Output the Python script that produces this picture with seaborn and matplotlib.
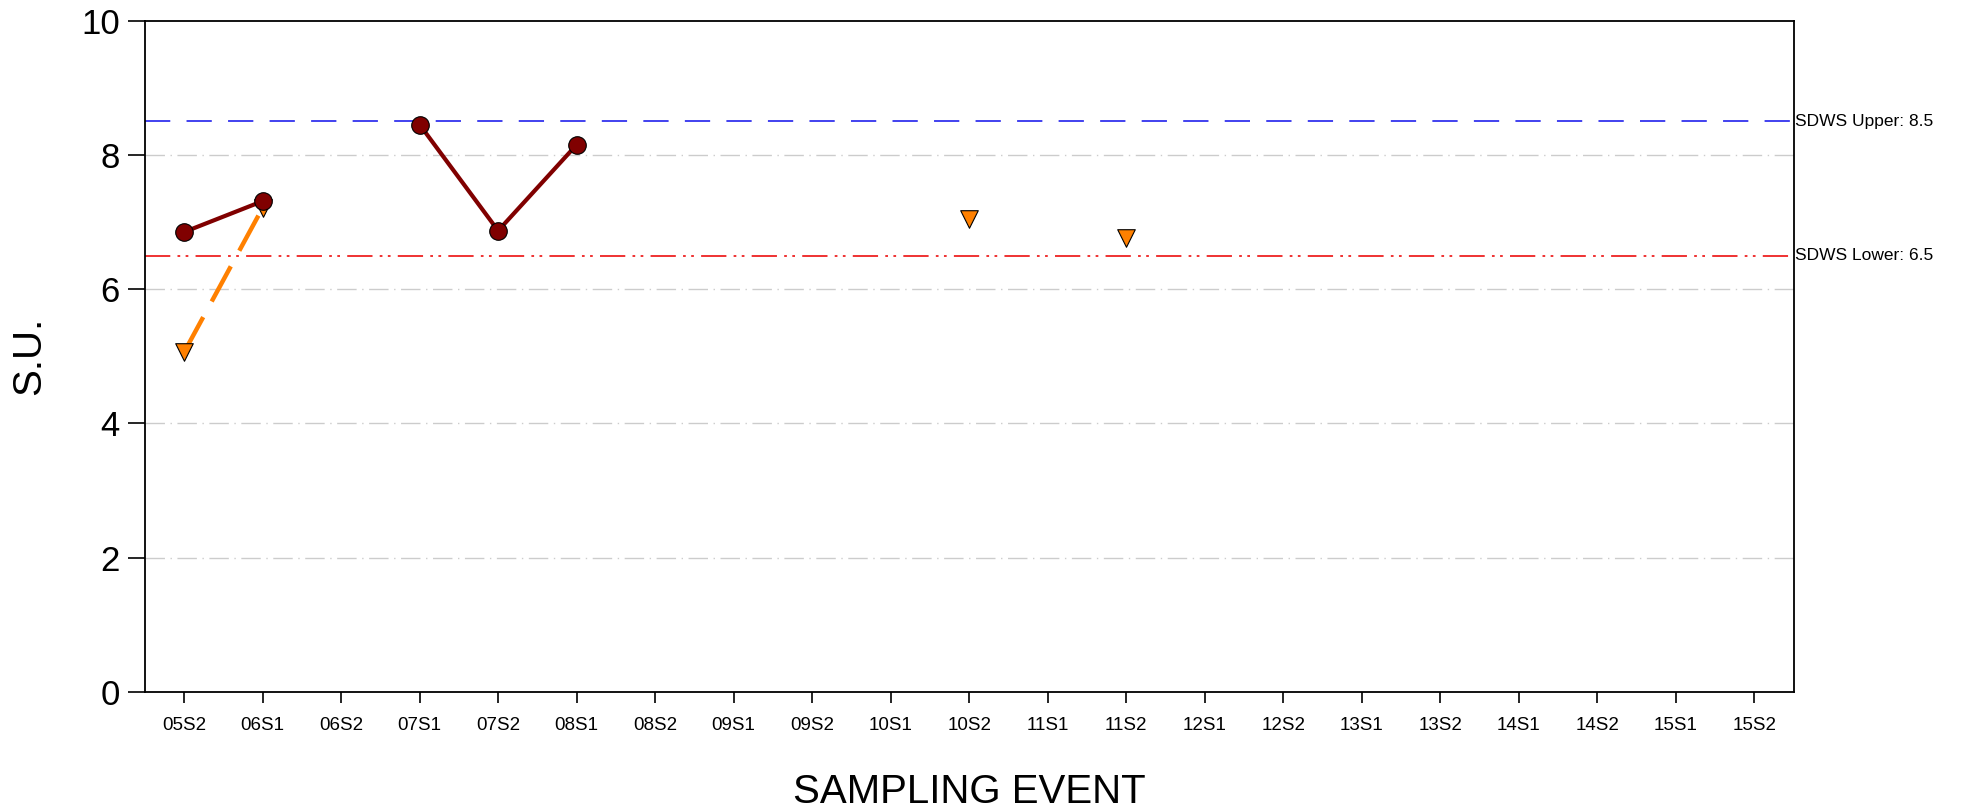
import numpy as np
import pandas as pd
import matplotlib
matplotlib.use("Agg")
import matplotlib.pyplot as plt
import seaborn as sns

events = ["05S2", "06S1", "06S2", "07S1", "07S2", "08S1", "08S2", "09S1", "09S2",
          "10S1", "10S2", "11S1", "11S2", "12S1", "12S2", "13S1", "13S2", "14S1",
          "14S2", "15S1", "15S2"]
series_a = [6.85, 7.31, np.nan, 8.45, 6.87, 8.15] + [np.nan] * 15
series_b = [5.06, 7.21] + [np.nan] * 8 + [7.04, np.nan, 6.76] + [np.nan] * 8
upper_limit = 8.5
lower_limit = 6.5
yticks = [0, 2, 4, 6, 8, 10]

sns.set_style("white")
plt.rcParams['font.family'] = ['Liberation Sans', 'DejaVu Sans']
plt.rcParams['text.color'] = 'black'
plt.rcParams['axes.labelcolor'] = 'black'
plt.rcParams['xtick.color'] = 'black'
plt.rcParams['ytick.color'] = 'black'

def segments(vals):
    seg, out = 0, []
    prev_nan = True
    for v in vals:
        if np.isnan(v):
            prev_nan = True
            out.append(-1)
        else:
            if prev_nan:
                seg += 1
            prev_nan = False
            out.append(seg)
    return out

pos = np.arange(len(events))
dfa = pd.DataFrame({"pos": pos, "val": series_a, "seg": segments(series_a)}).dropna()
dfb = pd.DataFrame({"pos": pos, "val": series_b, "seg": segments(series_b)}).dropna()

fig = plt.figure(figsize=(19.84, 8.11), dpi=100)
ax = fig.add_axes([0.073, 0.1467, 0.831, 0.828])

for yv in [2, 4, 6, 8]:
    ax.axhline(yv, color="#cccccc", lw=1.0, dashes=(14, 4, 1, 4), zorder=1)
ax.axhline(upper_limit, color="#3333ee", lw=1.3, dashes=(14, 9), zorder=2)
ax.axhline(lower_limit, color="#ee2222", lw=1.3, dashes=(14, 4, 1.5, 3, 1.5, 4), zorder=2)

n_before = len(ax.get_lines())
sns.lineplot(data=dfb, x="pos", y="val", units="seg", estimator=None, color="#ff8000",
             lw=3.2, ax=ax, zorder=3, legend=False)
for line in ax.get_lines()[n_before:]:
    line.set_dashes((9, 4))
sns.lineplot(data=dfa, x="pos", y="val", units="seg", estimator=None, color="#800000",
             lw=3, ax=ax, zorder=4, legend=False)
sns.scatterplot(data=dfb, x="pos", y="val", marker="v", s=160, color="#ff8000",
                edgecolor="black", linewidth=0.8, ax=ax, zorder=5, legend=False)
sns.scatterplot(data=dfa, x="pos", y="val", marker="o", s=160, color="#800000",
                edgecolor="black", linewidth=0.8, ax=ax, zorder=6, legend=False)

ax.set_xlim(-0.5, len(events) - 0.5)
ax.set_ylim(0, 10)
ax.set_xticks(pos)
ax.set_xticklabels(events, fontsize=13.5)
ax.set_yticks(yticks)
ax.set_yticklabels([str(t) for t in yticks], fontsize=25)
ax.tick_params(axis="x", direction="out", length=8, width=1.2, pad=10, bottom=True)
ax.tick_params(axis="y", direction="out", length=12, width=1.2, pad=6, left=True)
for sp in ax.spines.values():
    sp.set_color("black")
    sp.set_linewidth(1.3)
ax.set_xlabel("SAMPLING EVENT", fontsize=29, labelpad=28)
ax.set_ylabel("S.U.", fontsize=29, labelpad=24)

ax.text(1.001, upper_limit, "SDWS Upper: 8.5", transform=ax.get_yaxis_transform(),
        va="center", ha="left", fontsize=12.5)
ax.text(1.001, lower_limit, "SDWS Lower: 6.5", transform=ax.get_yaxis_transform(),
        va="center", ha="left", fontsize=12.5)

fig.savefig("out.png", dpi=100)
